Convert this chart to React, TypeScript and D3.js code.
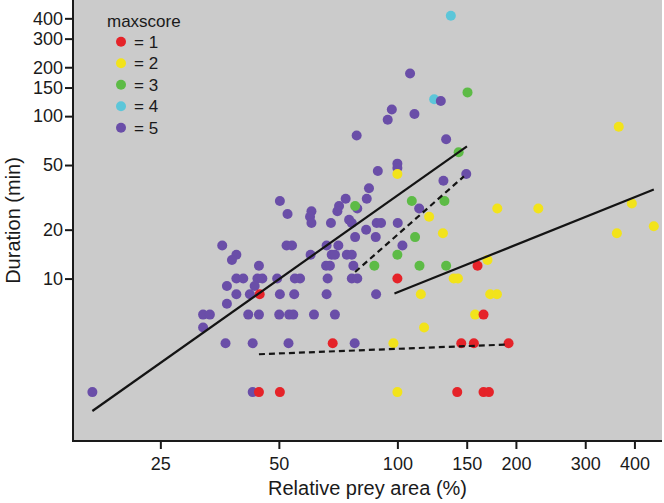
import * as d3 from "d3";
import { useEffect, useRef } from "react";

// maxscore categories and their colours
const scores = [1, 2, 3, 4, 5];
const scoreColors = ["#e52329", "#f2e31b", "#5dbb46", "#5cc6d9", "#6a4ea8"];

// Relative prey area (%) and duration (min), one pair of arrays per maxscore
const area1 = [44.7, 100, 159.8, 68.5, 145.3, 156.4, 191.6, 165.5, 44.5, 50.3, 141.9, 165.5, 170.8];
const dur1 = [8, 10, 12, 4, 4, 4, 4, 6, 2, 2, 2, 2, 2];

const area2 = [100, 120.4, 130.5, 179.4, 228, 394, 365, 361, 448, 169.4, 139, 142.5, 114.7, 172.1, 179, 116.9, 97.7, 157.6, 100];
const dur2 = [44, 24, 19, 27, 27, 29, 86, 19, 21, 13, 10, 10, 8, 8, 8, 5, 4, 6, 2];

const area3 = [150.7, 143.1, 108.8, 131.7, 78.1, 110.9, 100, 87.4, 113.8, 133];
const dur3 = [140, 60, 30, 30, 28, 18, 14, 12, 12, 12];

const area4 = [136.7, 124];
const dur4 = [415, 127];

const area5 = [
  16.8, 35.9, 39.0, 38.0, 44.5, 39.0, 40.6, 44.1, 45.4, 36.9, 43.4, 39.0, 42.2, 36.9, 32.1, 33.4, 41.8, 44.5, 32.1,
  36.6, 42.9, 42.9, 50.1, 53.1, 54.4, 61.4, 69.4, 52.9, 77.9, 96.8, 110.5, 94.5, 128.9, 78.8, 133, 100, 100, 89.2,
  149.6, 130.9, 84.7, 50.3, 73.9, 83.6, 71.1, 79.1, 60.5, 60.0, 60.5, 52.6, 70.4, 113.6, 75.4, 76.6, 67.8, 88.6,
  90.9, 100.2, 83.3, 88.1, 78.1, 52.3, 54.0, 66.1, 70.8, 103, 60.2, 68.1, 69.4, 74.4, 76.6, 65.9, 67.4, 77.3, 49.5,
  54.9, 56.6, 66.5, 76.6, 79.1, 50.3, 54.7, 66.1, 88.3, 107.7,
];
const dur5 = [
  2, 16, 14, 13, 12, 10, 10, 10, 10, 9, 9, 8, 8, 7, 6, 6, 6, 6, 5,
  4, 4, 2, 6, 6, 6, 6, 6, 4, 4, 110, 103, 95, 124, 76, 72, 51, 48, 46,
  44, 40, 36, 30, 31, 31, 28, 27, 26, 24, 22, 25, 26, 27, 23, 22, 22, 22,
  22, 22, 20, 18, 18, 16, 16, 16, 16, 16, 14, 14, 14, 14, 14, 12, 12, 12, 10,
  10, 10, 10, 10, 10, 8, 8, 8, 8, 183,
];

const areas = [area1, area2, area3, area4, area5];
const durations = [dur1, dur2, dur3, dur4, dur5];

// fitted lines (start / end) per maxscore
const fitScore = [5, 3, 2, 1];
const fitArea = [[16.8, 150.2], [78.1, 147.6], [98.3, 448], [44.5, 191.6]];
const fitDuration = [[1.53, 65.2], [10.98, 42.6], [8.09, 35.3], [3.42, 3.93]];
const fitDashed = [false, true, false, true];

const xTicks = [25, 50, 100, 150, 200, 300, 400];
const yTicks = [10, 20, 50, 100, 150, 200, 300, 400];

const FONT = "'Liberation Sans', Arial, sans-serif";

export default function App() {
  const ref = useRef<SVGSVGElement>(null);

  useEffect(() => {
    const svg = d3.select(ref.current);
    svg.selectAll("*").remove();

    const plot = { left: 73, right: 662, top: 0, bottom: 441 };

    const x = d3.scaleLog().domain([15, 470]).range([plot.left, plot.right]);
    const y = d3.scaleLog().domain([1, 500]).range([plot.bottom, 2.6]);

    // grey panel
    svg
      .append("rect")
      .attr("x", plot.left)
      .attr("y", plot.top)
      .attr("width", plot.right - plot.left)
      .attr("height", plot.bottom - plot.top)
      .attr("fill", "#cbcbcb");

    // points, drawn so red ends on top
    const drawOrder = [3, 4, 2, 1, 0];
    drawOrder.forEach((k) => {
      const pts = areas[k].map((a, i) => [a, durations[k][i]]);
      svg
        .append("g")
        .selectAll("circle")
        .data(pts)
        .join("circle")
        .attr("cx", (d) => x(d[0]))
        .attr("cy", (d) => y(d[1]))
        .attr("r", 5)
        .attr("fill", scoreColors[k]);
    });

    // fit lines
    fitScore.forEach((s, i) => {
      svg
        .append("line")
        .attr("x1", x(fitArea[i][0]))
        .attr("x2", x(fitArea[i][1]))
        .attr("y1", y(fitDuration[i][0]))
        .attr("y2", y(fitDuration[i][1]))
        .attr("stroke", "#141414")
        .attr("stroke-width", 2.2)
        .attr("stroke-dasharray", fitDashed[i] ? "6,4" : null)
        .attr("data-score", s);
    });

    // axes
    const xAxis = svg
      .append("g")
      .attr("transform", `translate(0,${plot.bottom})`)
      .call(d3.axisBottom(x).tickValues(xTicks).tickFormat(d3.format("d")).tickSize(8).tickPadding(8));
    const yAxis = svg
      .append("g")
      .attr("transform", `translate(${plot.left},0)`)
      .call(d3.axisLeft(y).tickValues(yTicks).tickFormat(d3.format("d")).tickSize(8).tickPadding(2));

    [xAxis, yAxis].forEach((g) => {
      g.select(".domain").remove();
      g.selectAll(".tick line").attr("stroke", "#1a1a1a").attr("stroke-width", 2);
      g.selectAll(".tick text")
        .attr("fill", "#1a1a1a")
        .style("font-size", "18px")
        .style("font-family", FONT);
    });

    // axis lines
    svg
      .append("path")
      .attr("d", `M${plot.left},${plot.top}V${plot.bottom}H${plot.right}`)
      .attr("fill", "none")
      .attr("stroke", "#1a1a1a")
      .attr("stroke-width", 2);

    // axis titles
    svg
      .append("text")
      .attr("x", (plot.left + plot.right) / 2)
      .attr("y", 495)
      .attr("text-anchor", "middle")
      .attr("fill", "#1a1a1a")
      .style("font-size", "20px")
      .style("font-family", FONT)
      .text("Relative prey area (%)");

    svg
      .append("text")
      .attr("transform", `translate(20,${(plot.top + plot.bottom) / 2}) rotate(-90)`)
      .attr("text-anchor", "middle")
      .attr("fill", "#1a1a1a")
      .style("font-size", "20px")
      .style("font-family", FONT)
      .text("Duration (min)");

    // legend
    const legend = svg.append("g").style("font-family", FONT).style("font-size", "17px");
    legend
      .append("text")
      .attr("x", 107)
      .attr("y", 27)
      .attr("fill", "#1a1a1a")
      .text("maxscore");
    scores.forEach((s, i) => {
      const cy = 41.7 + i * 21.5;
      legend.append("circle").attr("cx", 121).attr("cy", cy).attr("r", 5).attr("fill", scoreColors[i]);
      legend
        .append("text")
        .attr("x", 134)
        .attr("y", cy)
        .attr("dy", "0.35em")
        .attr("fill", "#1a1a1a")
        .text(`= ${s}`);
    });
  }, []);

  return (
    <svg
      ref={ref}
      width={664}
      height={503}
      style={{ position: "absolute", left: 0, top: 0, background: "#fff" }}
    />
  );
}
